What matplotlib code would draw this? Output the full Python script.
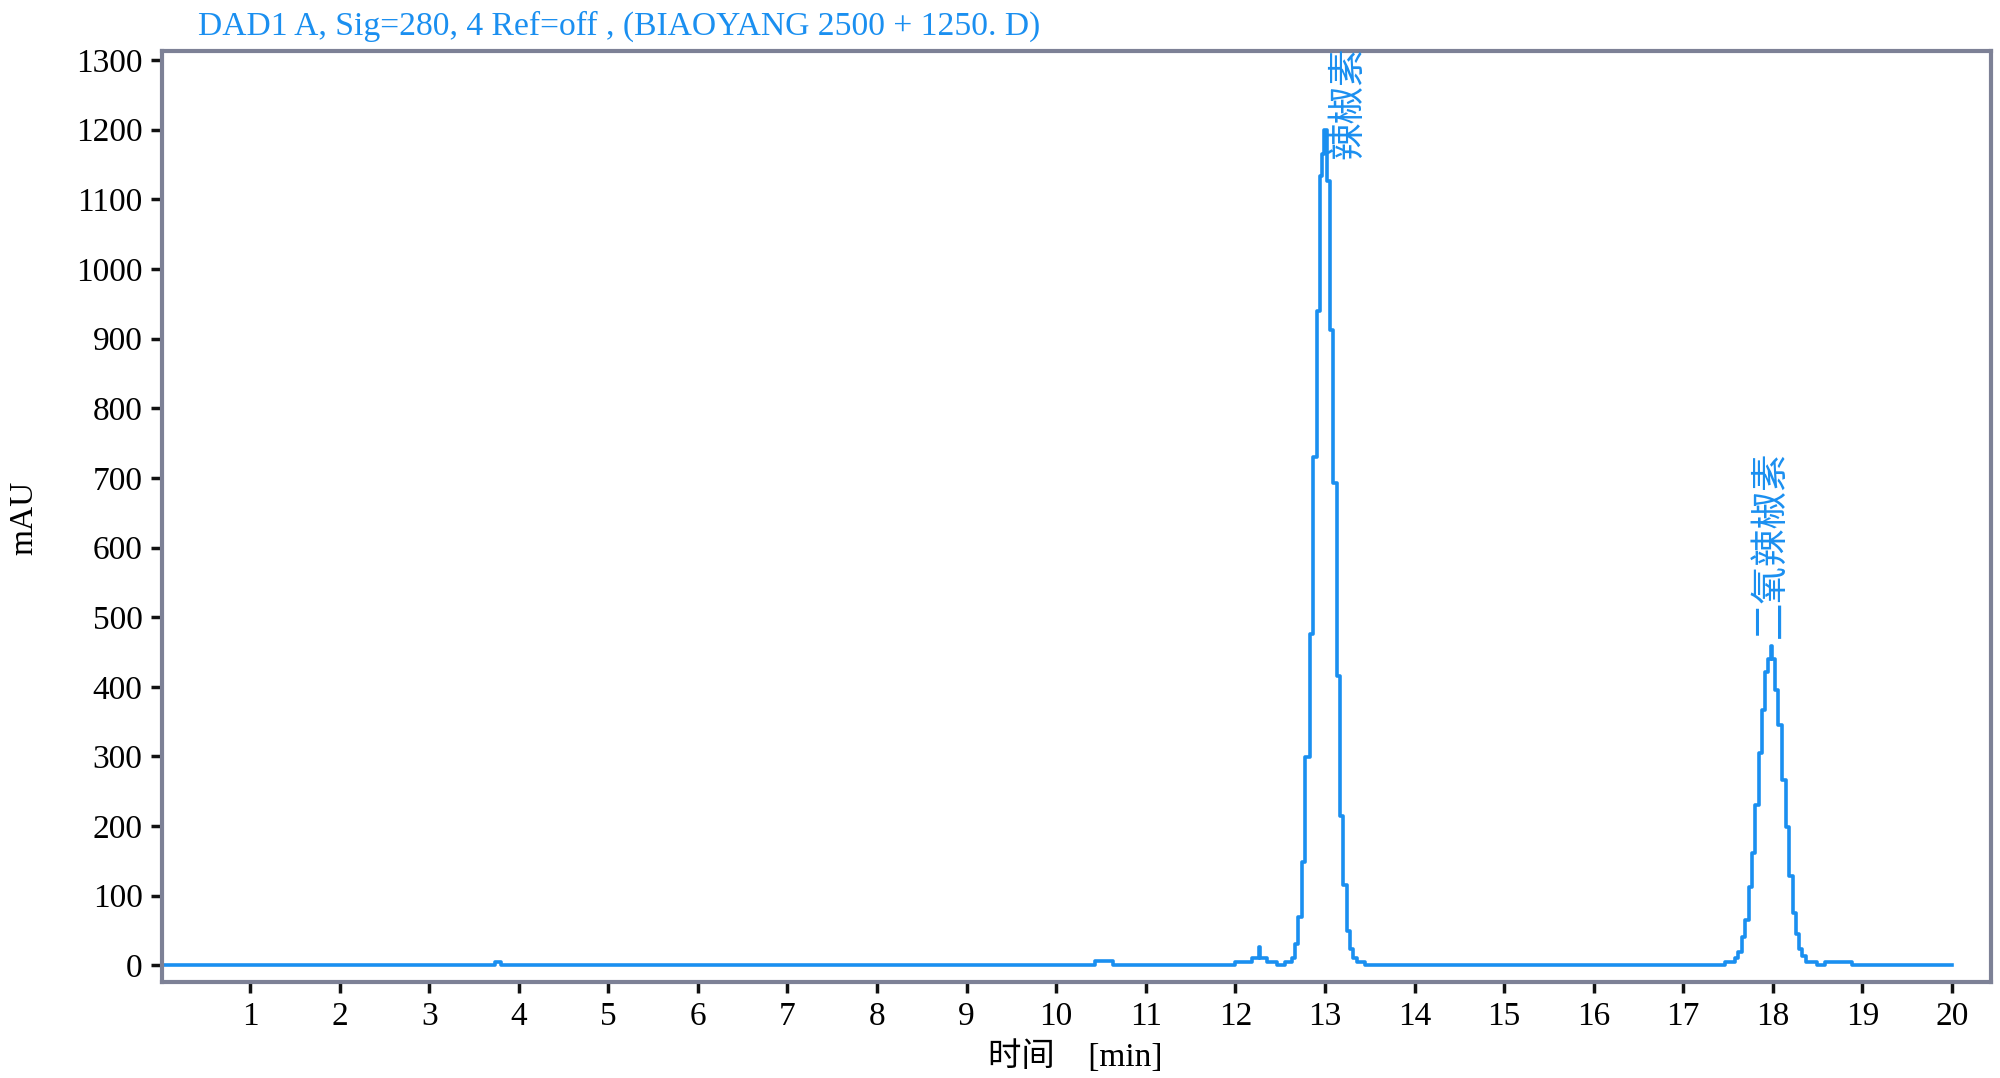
import matplotlib
matplotlib.use('Agg')
import matplotlib.pyplot as plt

# ---- 色谱数据（时间 min / 信号 mAU，阶梯采样）----
time_min = [0.0, 3.74, 3.80, 10.43, 10.63,
            12.00, 12.185, 12.26, 12.28, 12.35, 12.47,
            12.555, 12.628, 12.665, 12.703, 12.740, 12.777, 12.833, 12.870,
            12.907, 12.944, 12.970, 12.985, 13.018, 13.056, 13.093, 13.130,
            13.168, 13.205, 13.242, 13.279, 13.316, 13.354, 13.447,
            17.466, 17.578, 17.615, 17.652, 17.689, 17.734, 17.771, 17.801,
            17.846, 17.876, 17.913, 17.950, 17.975, 17.987, 18.024, 18.061,
            18.106, 18.147, 18.184, 18.222, 18.256, 18.291, 18.321, 18.369,
            18.489, 18.582, 18.880, 20.0]
signal_mau = [0, 5, 0, 6, 0,
              5, 10, 26, 10, 5, 0,
              5, 10, 31, 69, 149, 299, 476, 730,
              940, 1134, 1165, 1200, 1127, 912, 692, 415,
              214, 115, 50, 24, 10, 5, 0,
              5, 10, 19, 41, 65, 112, 161, 230,
              305, 366, 421, 440, 459, 440, 396, 345,
              266, 199, 129, 75, 45, 24, 14, 5,
              0, 5.5, 0, 0]

# 峰标注
peak_names = ['辣椒素', '二氧辣椒素']
peak_label_x = [13.25, 17.97]
peak_label_y = [1158, 470]

x_ticks = list(range(1, 21))
y_ticks = list(range(0, 1301, 100))

title_text = 'DAD1 A, Sig=280, 4 Ref=off , (BIAOYANG 2500 + 1250. D)'

# ================================================================
BLUE = '#1a8ff0'
FRAME = '#7d8196'
plt.rcParams['font.family'] = ['Liberation Serif', 'Noto Sans CJK SC']

fig = plt.figure(figsize=(20, 10.78), dpi=100)
ax = fig.add_axes([0.081, 0.089, 0.9145, 0.8637])

ax.plot(time_min, signal_mau, drawstyle='steps-post', color=BLUE, lw=2.6)

ax.set_xlim(0.018, 20.435)
ax.set_ylim(-24, 1313)
ax.set_xticks(x_ticks)
ax.set_yticks(y_ticks)
ax.tick_params(axis='both', direction='out', length=8, width=2.5,
               color='#111111', labelsize=24, pad=6)
ax.tick_params(top=False, right=False)
for sp in ax.spines.values():
    sp.set_color(FRAME)
    sp.set_linewidth(3)

for name, px, py in zip(peak_names, peak_label_x, peak_label_y):
    ax.text(px, py, name, rotation=90, ha='center', va='bottom',
            color=BLUE, fontsize=27, clip_on=False,
            family=['Noto Sans CJK SC', 'Liberation Serif'])

fig.text(0.099, 0.976, title_text, color=BLUE, fontsize=24.2, va='center', ha='left')
fig.text(0.5375, 0.02, '时间    [min]', fontsize=24, ha='center', va='center')
fig.text(0.012, 0.52, 'mAU', fontsize=24, rotation=90, ha='center', va='center')

fig.savefig('out.png', dpi=100)
